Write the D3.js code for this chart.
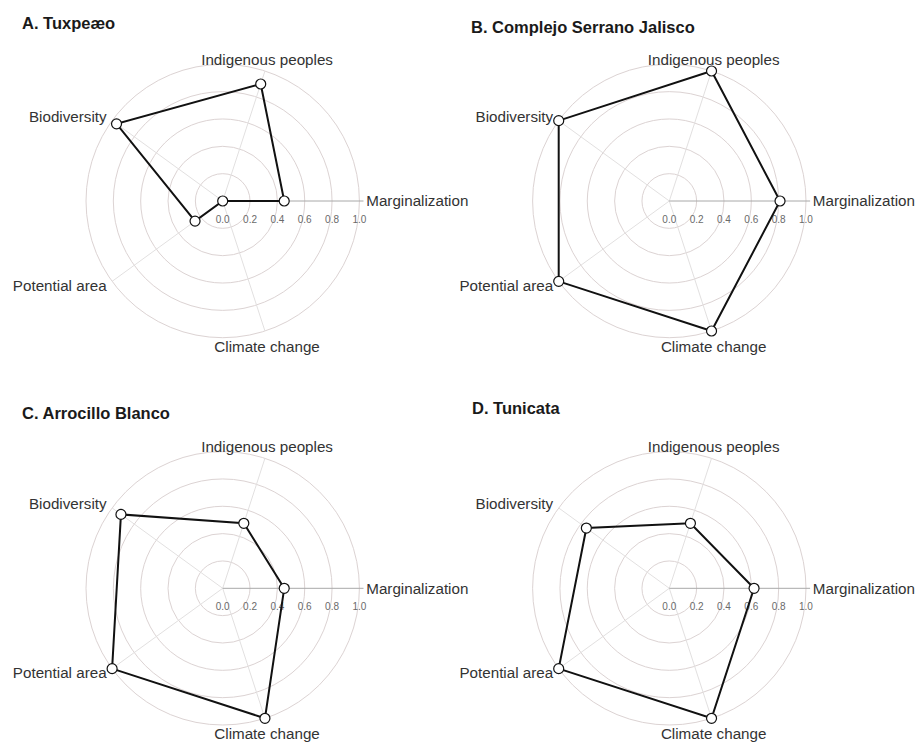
<!DOCTYPE html>
<html>
<head>
<meta charset="utf-8">
<script src="https://cdn.jsdelivr.net/npm/d3@7"></script>
<style>
  body { margin: 0; background: #fff; }
  svg { display: block; font-family: "Liberation Sans", Arial, sans-serif; }
</style>
</head>
<body>
<div id="main"></div>
<script>
// Axis names, in drawing order (counter-clockwise from 3 o'clock)
const axes = ["Marginalization", "Indigenous peoples", "Biodiversity", "Potential area", "Climate change"];
const ticks = [0, 0.2, 0.4, 0.6, 0.8, 1.0];
const titles = ["A. Tuxpeæo", "B. Complejo Serrano Jalisco", "C. Arrocillo Blanco", "D. Tunicata"];

// values per race, same order as axes
const tuxpeno = [0.45, 0.90, 0.96, 0.25, 0.0];
const serrano = [0.81, 1.0, 1.0, 1.0, 1.0];
const arrocillo = [0.45, 0.50, 0.92, 1.0, 1.0];
const tunicata = [0.62, 0.50, 0.75, 1.0, 1.0];

const series = [tuxpeno, serrano, arrocillo, tunicata];

// panel placement
const panels = [
  { cx: 222.7, cy: 201, tx: 22, ty: 29 },
  { cx: 669.3, cy: 201, tx: 471, ty: 33 },
  { cx: 222.7, cy: 588.3, tx: 22, ty: 419 },
  { cx: 669.3, cy: 588.3, tx: 472, ty: 414 }
];

const width = 919, height = 743;
const R = 136.7;

const r = d3.scaleLinear().domain([0, 1]).range([0, R]);
// d3 radial angle: clockwise from 12 o'clock
const angle = d3.scaleLinear().domain([0, axes.length]).range([Math.PI / 2, Math.PI / 2 - 2 * Math.PI]);

const svg = d3.select("#main").append("svg")
  .attr("width", width)
  .attr("height", height);

const px = (i, v) => r(v) * Math.sin(angle(i));
const py = (i, v) => -r(v) * Math.cos(angle(i));

series.forEach(function (vals, k) {
  const p = panels[k];

  svg.append("text")
    .attr("x", p.tx)
    .attr("y", p.ty)
    .attr("font-size", 16.5)
    .attr("font-weight", "bold")
    .attr("fill", "#1a1a1a")
    .text(titles[k]);

  const g = svg.append("g").attr("transform", "translate(" + p.cx + "," + p.cy + ")");

  // rings
  g.selectAll("circle.ring").data(ticks.slice(1))
    .enter().append("circle")
    .attr("class", "ring")
    .attr("r", d => r(d))
    .attr("fill", "none")
    .attr("stroke", "#dcd3d3")
    .attr("stroke-width", 1);

  // spokes
  g.selectAll("line.spoke").data(axes.slice(1))
    .enter().append("line")
    .attr("x1", 0).attr("y1", 0)
    .attr("x2", (d, i) => px(i + 1, 1))
    .attr("y2", (d, i) => py(i + 1, 1))
    .attr("stroke", "#e2e0e0")
    .attr("stroke-width", 1);

  // radial axis along marginalization
  g.append("line")
    .attr("x1", 0).attr("y1", 0)
    .attr("x2", r(1.03)).attr("y2", 0)
    .attr("stroke", "#a8a8a8")
    .attr("stroke-width", 1);

  g.selectAll("text.tick").data(ticks)
    .enter().append("text")
    .attr("x", d => r(d))
    .attr("y", 22)
    .attr("text-anchor", "middle")
    .attr("font-size", 10)
    .attr("fill", "#6a6a6a")
    .text(d => d3.format(".1f")(d));

  // axis labels
  g.selectAll("text.lab").data(axes)
    .enter().append("text")
    .attr("x", (d, i) => px(i, 1.05))
    .attr("y", (d, i) => py(i, 1.05))
    .attr("text-anchor", (d, i) => i === 0 ? "start" : (i === 1 || i === 4 ? "middle" : "end"))
    .attr("dy", (d, i) => i === 1 ? "0" : (i === 4 ? "0.95em" : "0.35em"))
    .attr("font-size", 15.2)
    .attr("fill", "#333")
    .text(d => d);

  // shape
  const line = d3.lineRadial()
    .angle((d, i) => angle(i))
    .radius(d => r(d))
    .curve(d3.curveLinearClosed);

  g.append("path")
    .attr("d", line(vals))
    .attr("fill", "none")
    .attr("stroke", "#111")
    .attr("stroke-width", 2);

  g.selectAll("circle.pt").data(vals)
    .enter().append("circle")
    .attr("class", "pt")
    .attr("cx", (d, i) => px(i, d))
    .attr("cy", (d, i) => py(i, d))
    .attr("r", 5)
    .attr("fill", "#fff")
    .attr("stroke", "#111")
    .attr("stroke-width", 1.2);
});
</script>
</body>
</html>
